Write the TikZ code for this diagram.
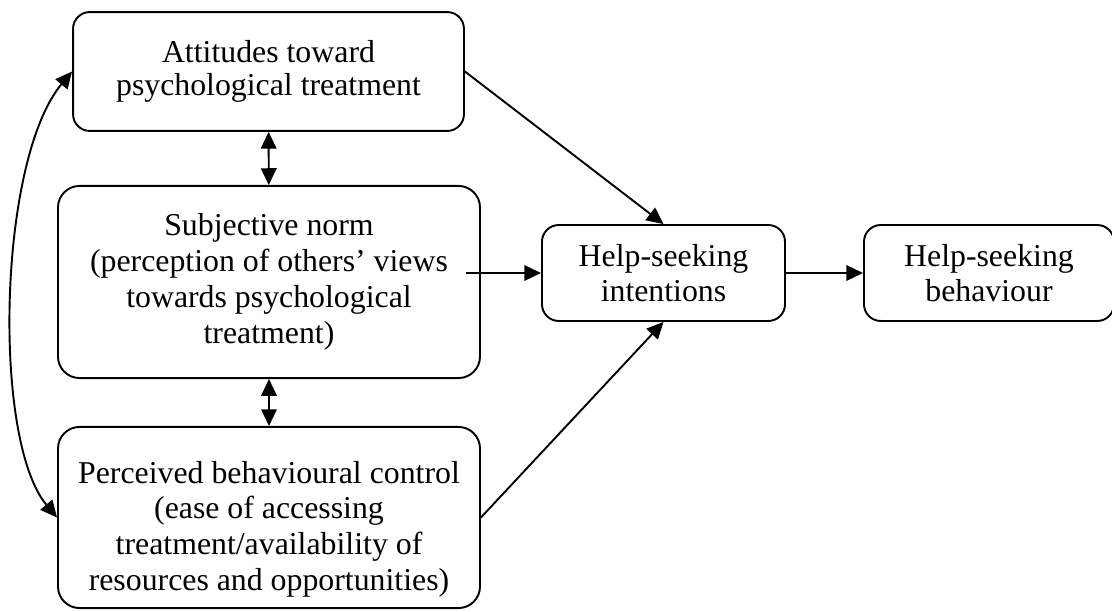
\documentclass[tikz,border=0pt]{standalone}
\usepackage{fontspec}
\setmainfont{Liberation Serif}
\usetikzlibrary{positioning, arrows.meta}

\begin{document}
\begin{tikzpicture}[x=0.418pt, y=-0.418pt,
          box/.style={draw, line width=0.8pt, rounded corners=7pt, inner sep=0pt, align=center, font=\fontsize{13.3}{14.6}\selectfont},
          bigbox/.style={box, rounded corners=9pt, minimum width=176.4pt, font=\fontsize{13.3}{15}\selectfont},
          arr/.style={-{Triangle[length=7pt,width=6.5pt]}, line width=0.8pt},
          darr/.style={{Triangle[length=7pt,width=6.5pt]}-{Triangle[length=7pt,width=6.5pt]}, line width=0.8pt}]
        \useasboundingbox (0,0) rectangle (1112,612);
        \node[box, minimum width=163.4pt, minimum height=49.7pt, font=\fontsize{13.3}{13.9}\selectfont] (att) at (268.5,71.5) {Attitudes toward\\psychological treatment};
        \node[bigbox, minimum height=80.3pt] (norm) at (269,282) {Subjective norm\\(perception of others’ views\\towards psychological\\treatment)};
        \node[bigbox, minimum height=75.7pt] (pbc) at (269,517.5) {\rule{0pt}{19pt}Perceived behavioural control\\(ease of accessing\\treatment/availability of\\resources and opportunities)};
        \node[box, minimum width=101.6pt, minimum height=40.1pt] (int) at (663.5,273) {Help-seeking\\intentions};
        \node[box, minimum width=104.5pt, minimum height=40.1pt, right=32.2pt of int] (beh) {Help-seeking\\behaviour};
        \draw[darr] (att) -- (norm);
        \draw[darr] (norm) -- (pbc);
        \draw[darr] (att.west) .. controls (-2,160) and (-8,440) .. (pbc.west);
        \draw[arr] (att.east) -- (int.north);
        \draw[arr, shorten <=-6.3pt] (norm.east |- int.west) -- (int.west);
        \draw[arr] (pbc.east) -- (int.south);
        \draw[arr] (int) -- (beh);
      \end{tikzpicture}
\end{document}
